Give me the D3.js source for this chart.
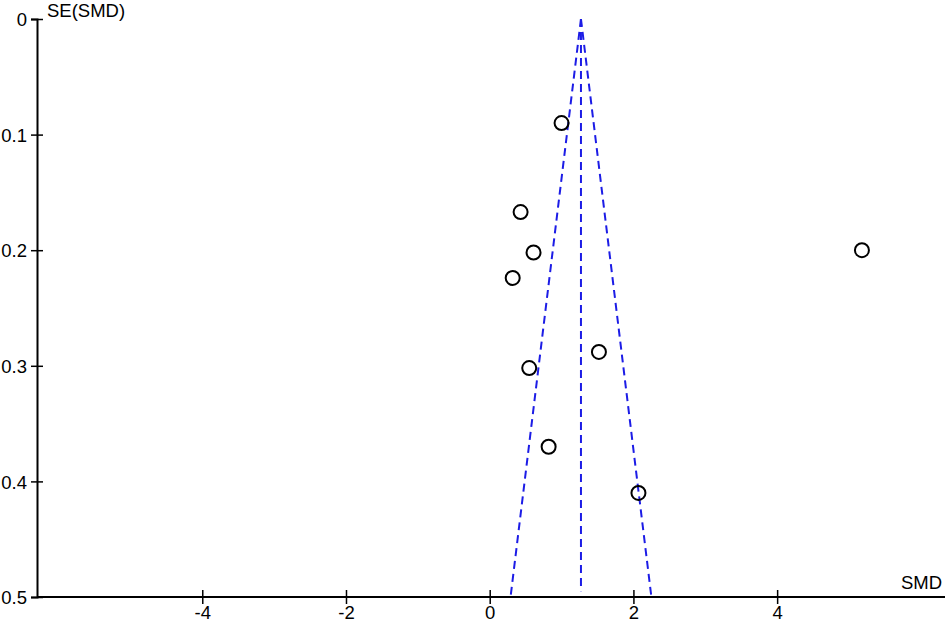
<!DOCTYPE html>
<html>
<head>
<meta charset="utf-8">
<script src="https://cdn.jsdelivr.net/npm/d3@7"></script>
<style>
  html, body { margin: 0; padding: 0; background: #fff; }
  svg { display: block; }
  text { font-family: "Liberation Sans", Arial, sans-serif; }
</style>
</head>
<body>
<svg id="chart" width="945" height="623"></svg>
<script>
// ---- data ----
const smd = [1.00, 0.43, 0.61, 0.32, 5.18, 1.52, 0.55, 0.82, 2.07];
const se  = [0.090, 0.167, 0.202, 0.224, 0.200, 0.288, 0.302, 0.370, 0.410];
const pooledSMD = 1.27;
const xTicks = [-4, -2, 0, 2, 4];
const xTickLabels = ["-4", "-2", "0", "2", "4"];
const yTicks = [0, 0.1, 0.2, 0.3, 0.4, 0.5];
const yTickLabels = ["0", "0.1", "0.2", "0.3", "0.4", "0.5"];
const xTitle = "SMD";
const yTitle = "SE(SMD)";

// ---- layout ----
const svg = d3.select("#chart");
const x = d3.scaleLinear().domain([-6.3, 6.35]).range([37, 946]);
const y = d3.scaleLinear().domain([0, 0.5]).range([19, 597]);
const blue = "#1c1ce6";
const font = 18.5;

// funnel lines
const seMax = 0.5;
const funnel = [
  [[pooledSMD, 0], [pooledSMD - 1.96 * seMax, seMax]],
  [[pooledSMD, 0], [pooledSMD + 1.96 * seMax, seMax]],
  [[pooledSMD, 0], [pooledSMD, seMax - 0.005]]
];
svg.append("g").selectAll("line").data(funnel).join("line")
  .attr("x1", d => x(d[0][0])).attr("y1", d => y(d[0][1]))
  .attr("x2", d => x(d[1][0])).attr("y2", d => y(d[1][1]))
  .attr("stroke", blue).attr("stroke-width", 2)
  .attr("stroke-dasharray", "8,5");

// axes
const xAxis = svg.append("g")
  .attr("transform", `translate(0,${y(0.5)})`)
  .call(d3.axisBottom(x).tickValues(xTicks)
    .tickFormat((d, i) => xTickLabels[i]).tickSize(7).tickPadding(2));
xAxis.select(".domain").attr("d", `M${x.range()[0]},0H${x.range()[1]}`);
xAxis.selectAll(".tick line").attr("y1", -7).attr("y2", 7);

const yAxis = svg.append("g")
  .attr("transform", `translate(${x(-6.3)},0)`)
  .call(d3.axisLeft(y).tickValues(yTicks)
    .tickFormat((d, i) => yTickLabels[i]).tickSize(6).tickPadding(4));
yAxis.selectAll(".tick line").attr("x1", -6).attr("x2", 6);

[xAxis, yAxis].forEach(g => {
  g.select(".domain").attr("stroke", "#000").attr("stroke-width", 2);
  g.selectAll(".tick line").attr("stroke", "#000").attr("stroke-width", 1.5);
  g.selectAll(".tick text").attr("font-size", font).attr("fill", "#000")
    .attr("font-family", "Liberation Sans, Arial, sans-serif");
});
yAxis.selectAll(".tick text").attr("dy", "0.36em");
xAxis.selectAll(".tick text").attr("dy", "0.68em");

// titles
svg.append("text").attr("x", 47).attr("y", 17)
  .attr("font-size", font).text(yTitle);
svg.append("text").attr("x", 942).attr("y", 589).attr("text-anchor", "end")
  .attr("font-size", font).text(xTitle);

// points
svg.append("g").selectAll("circle").data(smd.map((v, i) => [v, se[i]])).join("circle")
  .attr("cx", d => x(d[0])).attr("cy", d => y(d[1])).attr("r", 7)
  .attr("fill", "none").attr("stroke", "#000").attr("stroke-width", 2);
</script>
</body>
</html>
